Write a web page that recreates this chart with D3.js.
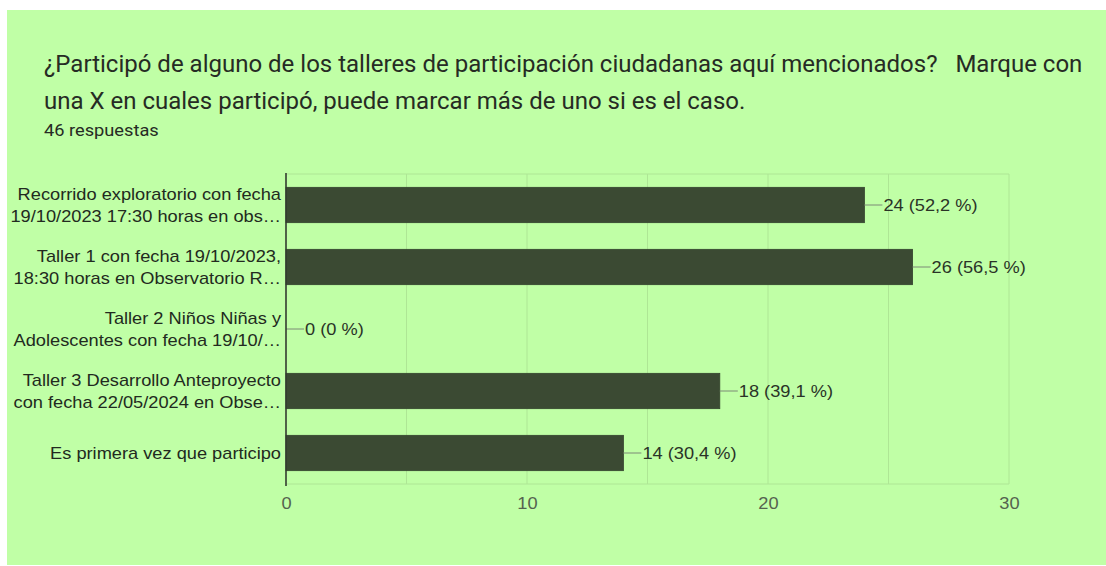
<!DOCTYPE html>
<html>
<head>
<meta charset="utf-8">
<script src="https://cdn.jsdelivr.net/npm/d3@7"></script>
<style>
  html, body { margin: 0; padding: 0; background: #ffffff; }
  svg { display: block; }
</style>
</head>
<body>
<svg id="chart" width="1106" height="566"></svg>
<script>
// Survey question, answers and counts
const titleLines = [
  "¿Participó de alguno de los talleres de participación ciudadanas aquí mencionados?   Marque con",
  "una X en cuales participó, puede marcar más de uno si es el caso."
];
const totalResponses = 46;
const subtitle = totalResponses + " respuestas";

const categories = ["recorrido", "taller1", "taller2", "taller3", "primera"];
const categoryLabels = [
  ["Recorrido exploratorio con fecha", "19/10/2023 17:30 horas en obs…"],
  ["Taller 1 con fecha 19/10/2023,", "18:30 horas en Observatorio R…"],
  ["Taller 2 Niños Niñas y", "Adolescentes con fecha 19/10/…"],
  ["Taller 3 Desarrollo Anteproyecto", "con fecha 22/05/2024 en Obse…"],
  ["Es primera vez que participo"]
];
const counts = [24, 26, 0, 18, 14];
const xTickLabels = [0, 10, 20, 30];
const xGridValues = [5, 10, 15, 20, 25, 30];

// text in this panel is set slightly wide
const SX = 1.14;
const wide = ax => `translate(${ax},0) scale(${SX},1) translate(${-ax},0)`;

const svg = d3.select("#chart");

// panel background
svg.append("rect")
  .attr("x", 7).attr("y", 10)
  .attr("width", 1099).attr("height", 555)
  .attr("fill", "#c0ffa6");

// heading
const tLines = svg.append("g").selectAll("text").data(titleLines).join("text")
  .attr("x", 44)
  .attr("y", (d, i) => 72 + i * 37)
  .style("white-space", "pre")
  .attr("font-family", "Roboto, sans-serif")
  .attr("font-size", 23)
  .attr("fill", "#262b24")
  .text(d => d);
// widen the heading so its first line spans the panel
const firstLen = tLines.node().getComputedTextLength();
const tsx = 1039 / firstLen;
tLines.attr("transform", `translate(44,0) scale(${tsx},1) translate(-44,0)`);

svg.append("text")
  .attr("x", 44).attr("y", 136)
  .attr("font-family", "Roboto, sans-serif")
  .attr("font-size", 16)
  .attr("fill", "#262b24")
  .attr("transform", wide(44))
  .text(subtitle);

// scales
const x = d3.scaleLinear().domain([0, 30]).range([286, 1009]);
const y = d3.scaleBand().domain(categories).range([174, 484])
  .paddingInner(0.43).paddingOuter(0.215);

const plot = svg.append("g");

// gridlines
plot.append("g").selectAll("line").data(xGridValues).join("line")
  .attr("x1", d => x(d)).attr("x2", d => x(d))
  .attr("y1", 174).attr("y2", 484)
  .attr("stroke", "#aee695").attr("stroke-width", 1);
plot.append("g").selectAll("line").data([174, 484]).join("line")
  .attr("x1", 286).attr("x2", x(30))
  .attr("y1", d => d).attr("y2", d => d)
  .attr("stroke", "#aee695").attr("stroke-width", 1);

// bars
plot.append("g").selectAll("rect").data(categories).join("rect")
  .attr("x", x(0))
  .attr("y", d => y(d))
  .attr("width", (d, i) => x(counts[i]) - x(0))
  .attr("height", y.bandwidth())
  .attr("fill", "#3b4a33")
  .attr("stroke", "#34432d")
  .attr("stroke-width", 0.8);

// value annotations with leader lines
const fmtPct = v => {
  const p = Math.round(v * 1000) / 10;
  return (Number.isInteger(p) ? String(p) : p.toFixed(1).replace(".", ",")) + " %";
};
const ann = plot.append("g").selectAll("g").data(categories).join("g")
  .attr("transform", (d, i) => `translate(${x(counts[i])},${y(d) + y.bandwidth() / 2})`);
ann.append("line")
  .attr("x1", 0).attr("x2", 18).attr("y1", 0).attr("y2", 0)
  .attr("stroke", "#7d8a76").attr("stroke-width", 1);
ann.append("text")
  .attr("x", 19).attr("dy", "0.35em")
  .attr("font-family", "'Liberation Sans', Arial, sans-serif")
  .attr("font-size", 16)
  .attr("fill", "#2a3327")
  .attr("transform", wide(19))
  .text((d, i) => `${counts[i]} (${fmtPct(counts[i] / totalResponses)})`);

// category labels
const lab = plot.append("g").selectAll("text").data(categories).join("text")
  .attr("text-anchor", "end")
  .attr("font-family", "'Liberation Sans', Arial, sans-serif")
  .attr("font-size", 16)
  .attr("fill", "#222a20")
  .attr("transform", wide(281));
lab.each(function(d, i) {
  const lines = categoryLabels[i];
  const cy = y(d) + y.bandwidth() / 2;
  const start = cy - (lines.length - 1) * 11;
  d3.select(this).selectAll("tspan").data(lines).join("tspan")
    .attr("x", 281)
    .attr("y", (l, j) => start + j * 22)
    .attr("dy", "0.35em")
    .text(l => l);
});

// vertical axis line
plot.append("line")
  .attr("x1", x(0)).attr("x2", x(0))
  .attr("y1", 173).attr("y2", 486)
  .attr("stroke", "#333b30").attr("stroke-width", 1.6);

// x axis tick labels
const xAxis = d3.axisBottom(x).tickValues(xTickLabels).tickSize(0).tickPadding(0).tickFormat(d3.format("d"));
const xg = svg.append("g").attr("transform", "translate(0,498)").call(xAxis);
xg.select(".domain").remove();
xg.selectAll("text")
  .attr("font-family", "'Liberation Sans', Arial, sans-serif")
  .attr("font-size", 16)
  .attr("fill", "#55634f")
  .attr("transform", `scale(${SX},1)`);
</script>
</body>
</html>
